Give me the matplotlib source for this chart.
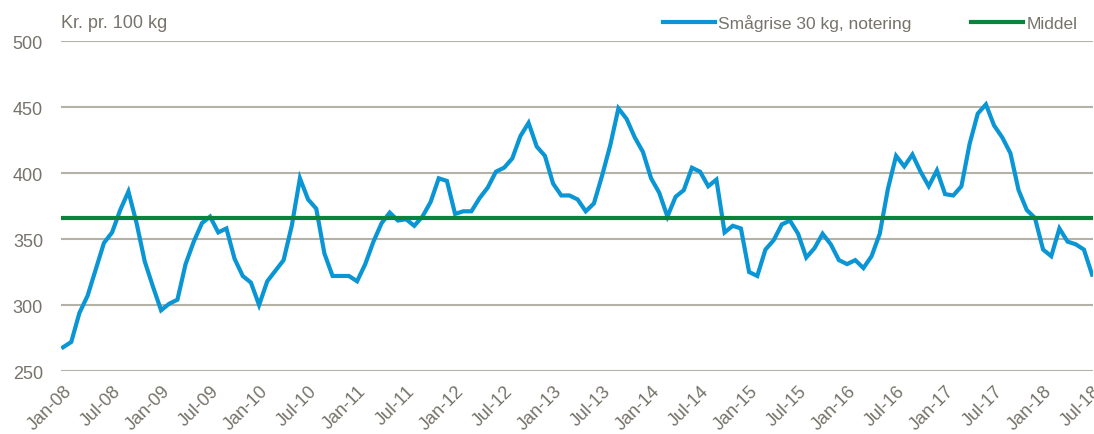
import matplotlib
matplotlib.use('Agg')
import matplotlib.pyplot as plt
import numpy as np

# _____________________________________________________________________________
#                               Dados
# _____________________________________________________________________________
# Smågrise 30 kg, notering (kr. pr. 100 kg), månedlig jan-08 .. jul-18
PRIS_2008 = [268, 272, 294, 307, 327, 347, 355, 372, 386, 362, 333, 314]
PRIS_2009 = [296, 301, 304, 331, 348, 362, 367, 355, 358, 335, 322, 317]
PRIS_2010 = [300, 318, 326, 334, 360, 396, 380, 373, 339, 322, 322, 322]
PRIS_2011 = [318, 331, 348, 362, 370, 364, 365, 360, 367, 378, 396, 394]
PRIS_2012 = [369, 371, 371, 381, 389, 401, 404, 411, 428, 438, 420, 413]
PRIS_2013 = [392, 383, 383, 380, 371, 377, 398, 421, 449, 441, 427, 416]
PRIS_2014 = [396, 385, 367, 382, 387, 404, 401, 390, 395, 355, 360, 358]
PRIS_2015 = [325, 322, 342, 349, 361, 364, 354, 336, 343, 354, 346, 334]
PRIS_2016 = [331, 334, 328, 337, 354, 388, 413, 405, 414, 401, 390, 402]
PRIS_2017 = [384, 383, 390, 422, 445, 452, 436, 427, 415, 387, 372, 366]
PRIS_2018 = [342, 337, 358, 348, 346, 342, 323]

MIDDEL = 366

XTICKLABELS = ['Jan-08', 'Jul-08', 'Jan-09', 'Jul-09', 'Jan-10', 'Jul-10',
               'Jan-11', 'Jul-11', 'Jan-12', 'Jul-12', 'Jan-13', 'Jul-13',
               'Jan-14', 'Jul-14', 'Jan-15', 'Jul-15', 'Jan-16', 'Jul-16',
               'Jan-17', 'Jul-17', 'Jan-18', 'Jul-18']
YTICKS = [250, 300, 350, 400, 450, 500]

LABEL_SERIE = 'Smågrise 30 kg, notering'
LABEL_MIDDEL = 'Middel'
YLABEL = 'Kr. pr. 100 kg'

# Cores
COR_SERIE = '#0a96d4'
COR_MIDDEL = '#0a833c'
COR_GRADE = '#b4b1a7'
COR_TEXTO = '#76736a'

pris = (PRIS_2008 + PRIS_2009 + PRIS_2010 + PRIS_2011 + PRIS_2012 +
        PRIS_2013 + PRIS_2014 + PRIS_2015 + PRIS_2016 + PRIS_2017 + PRIS_2018)
meses = np.arange(len(pris))

# _____________________________________________________________________________
#                               Plotando
# _____________________________________________________________________________
plt.rcParams['font.family'] = ['Liberation Sans', 'DejaVu Sans']
FS = 13

fig = plt.figure(figsize=(10.94, 4.35), dpi=100)
ax = fig.add_axes((0.0558, 0.1448, 0.9432, 0.7586))

ax.plot(meses, pris, color=COR_SERIE, linewidth=3.0,
        solid_joinstyle='miter', label=LABEL_SERIE, zorder=4)
ax.plot([meses[0], meses[-1]], [MIDDEL, MIDDEL], color=COR_MIDDEL,
        linewidth=3.0, label=LABEL_MIDDEL, zorder=5)

ax.set_ylim(250, 500)
ax.set_xlim(-0.25, meses[-1] + 0.1)
ax.set_yticks(YTICKS)
ax.set_xticks(meses[::6])
ax.set_xticklabels(XTICKLABELS, rotation=45, ha='right',
                   rotation_mode='anchor')

ax.grid(axis='y', color=COR_GRADE, linewidth=1.5, zorder=1)
ax.set_axisbelow(True)
for s in ax.spines.values():
    s.set_visible(False)

ax.tick_params(axis='both', length=0, colors=COR_TEXTO, labelsize=FS)
ax.tick_params(axis='y', pad=13)
ax.tick_params(axis='x', pad=8)

ax.text(0.0, 1.03, YLABEL, transform=ax.transAxes, fontsize=FS,
        color=COR_TEXTO, ha='left', va='bottom')

leg = ax.legend(loc='lower right', bbox_to_anchor=(0.995, 1.0), ncol=2,
                frameon=False, fontsize=12.5, handlelength=3.0,
                handletextpad=0.2, columnspacing=3.4, borderaxespad=0.2)
for t in leg.get_texts():
    t.set_color(COR_TEXTO)

fig.savefig('out.png', dpi=100)
